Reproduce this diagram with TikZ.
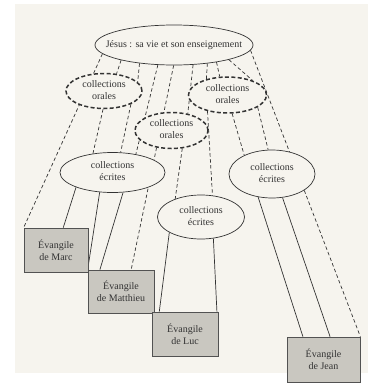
\documentclass[tikz,border=0pt]{standalone}
\usepackage{fontspec}
\setmainfont{Liberation Serif}
\usetikzlibrary{shapes.geometric}

\definecolor{pagebg}{HTML}{F6F4EE}
\definecolor{boxgray}{HTML}{C9C7C0}
\definecolor{inkgray}{HTML}{333333}

\pgfdeclarelayer{paper}
\pgfdeclarelayer{links}
\pgfsetlayers{paper,links,main}

\newcommand{\twol}[2]{\makebox[0pt]{\begin{tabular}{@{}c@{}}#1\\#2\end{tabular}}}

\tikzset{
    source/.style={ellipse, draw=inkgray, fill=pagebg, line width=0.7pt, inner sep=0pt, text=inkgray},
    oral/.style={ellipse, draw=inkgray, fill=pagebg, line width=1.5pt, dash pattern=on 4pt off 2.4pt, inner sep=0pt, text=inkgray},
    gospel/.style={rectangle, draw=inkgray!85, fill=boxgray, line width=0.7pt, align=center, inner sep=0pt, text=inkgray},
    oralink/.style={draw=inkgray, line width=0.7pt, dash pattern=on 3.5pt off 2.5pt},
    writlink/.style={draw=inkgray, line width=0.7pt}
}

\begin{document}
\begin{tikzpicture}[x=1pt,y=-1pt]
    \useasboundingbox (0,0) rectangle (374,383);
    \begin{pgfonlayer}{paper}
        \fill[white] (0,0) rectangle (374,383);
        \fill[pagebg] (15,4) rectangle (368,373);
    \end{pgfonlayer}

    % Jesus
    \node[source, minimum width=158pt, minimum height=40pt] (jesus) at (174,45) {\makebox[0pt]{Jésus : sa vie et son enseignement}};

    % oral collections
    \node[oral, minimum width=76pt, minimum height=35pt] (oralA) at (104,91) {\twol{collections}{orales}};
    \node[oral, minimum width=73pt, minimum height=36pt] (oralB) at (171.5,130.5) {\twol{collections}{orales}};
    \node[oral, minimum width=78pt, minimum height=36pt] (oralC) at (227.5,95) {\twol{collections}{orales}};

    % written collections
    \node[source, minimum width=105pt, minimum height=40pt] (writA) at (112.5,172.5) {\twol{collections}{écrites}};
    \node[source, minimum width=87pt, minimum height=44pt] (writB) at (201,217) {\twol{collections}{écrites}};
    \node[source, minimum width=86pt, minimum height=48pt] (writC) at (272,174) {\twol{collections}{écrites}};

    % gospels
    \node[gospel, minimum width=64pt, minimum height=44pt] (marc) at (56,250) {Évangile\\de Marc};
    \node[gospel, minimum width=66pt, minimum height=43pt] (matthieu) at (121,291.5) {Évangile\\de Matthieu};
    \node[gospel, minimum width=66pt, minimum height=44pt] (luc) at (185,334) {Évangile\\de Luc};
    \node[gospel, minimum width=73pt, minimum height=45pt] (jean) at (323.5,359.5) {Évangile\\de Jean};

    \begin{pgfonlayer}{links}
        % oral tradition (dashed)
        \draw[oralink] (jesus.187) -- (marc.north west);
        \draw[oralink] (jesus.196) -- (oralA.54);
        \draw[oralink] (jesus.208) -- (oralA.15);
        \draw[oralink] (jesus.231) -- (writA.38);
        \draw[oralink] (jesus.269) -- (matthieu.65);
        \draw[oralink] (jesus.314) -- (oralB.46);
        \draw[oralink] (jesus.331) -- (oralC.143);
        \draw[oralink] (jesus.338) -- (oralC.113);
        \draw[oralink] (jesus.345) -- (oralC.30);
        \draw[oralink] (jesus.356) -- (jean.north east);
        \draw[oralink] (oralA.267) -- (writA.136);
        \draw[oralink] (oralA.334) -- (writA.68);
        \draw[oralink] (oralB.301) -- (writB.145);
        \draw[oralink] (oralC.219) -- (writB.62);
        \draw[oralink] (oralC.284) -- (writC.146);
        \draw[oralink] (oralC.338) -- (writC.99);

        % written sources (solid)
        \draw[writlink] (writA.202) -- (marc.72);
        \draw[writlink] (writA.237) -- (matthieu.north west);
        \draw[writlink] (writA.298) -- (matthieu.134);
        \draw[writlink] (writB.206) -- (luc.139);
        \draw[writlink] (writB.300) -- (luc.35);
        \draw[writlink] (writC.239) -- (jean.132);
        \draw[writlink] (writC.294) -- (jean.74);
    \end{pgfonlayer}
\end{tikzpicture}
\end{document}
